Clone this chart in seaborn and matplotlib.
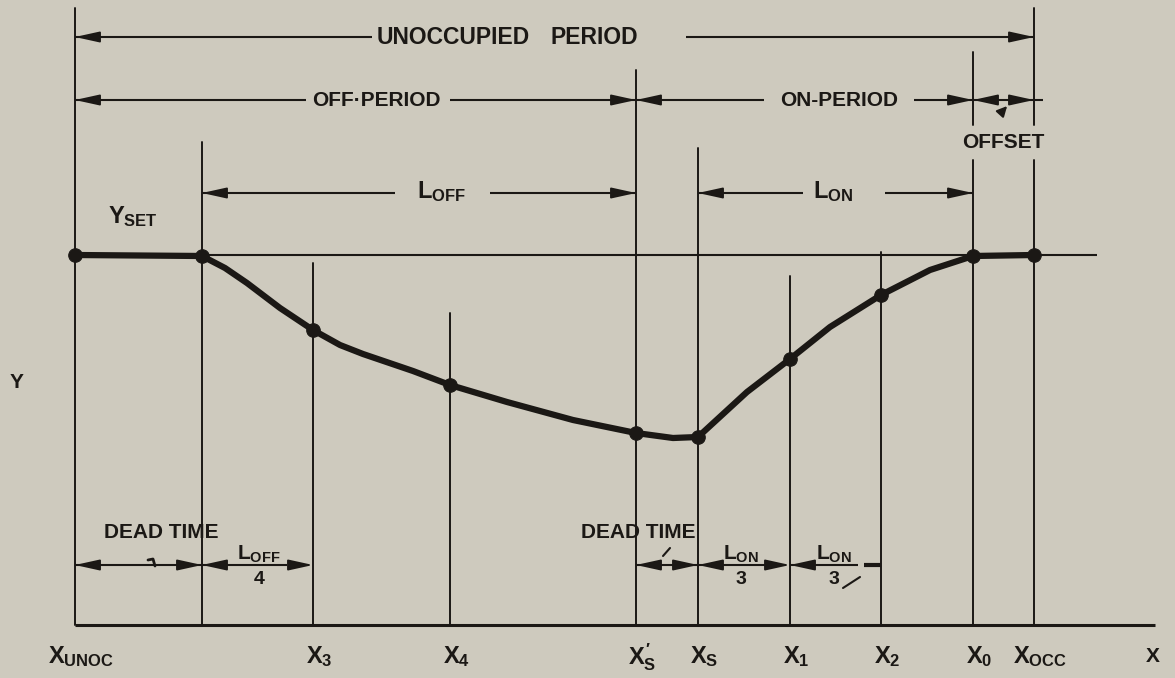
import matplotlib
matplotlib.use('Agg')
import matplotlib.pyplot as plt
import seaborn as sns
from matplotlib.patches import FancyArrowPatch

# nodes along the time axis and the curve value at each node (picture units, y grows downwards)
node_x = [75, 202, 313, 450, 636, 698, 790, 881, 973, 1034]
node_y = [255, 256, 330, 385, 433, 437, 359, 295, 256, 255]
node_top = [8, 142, 263, 313, 70, 148, 276, 252, 160, 160]   # where each vertical guide starts
node_labels = [r'$X_{UNOC}$', '', r'$X_3$', r'$X_4$', r'$X^{\prime}_{S}$', r'$X_S$',
               r'$X_1$', r'$X_2$', r'$X_0$', r'$X_{OCC}$']

# extra points read along the curve between the nodes
curve_x = [75, 202, 225, 247, 280, 313, 340, 363, 413, 450, 507, 573, 636, 673, 698, 747, 790, 830, 881, 930, 973, 1034]
curve_y = [255, 256, 268, 283, 308, 330, 345, 354, 371, 385, 402, 420, 433, 438, 437, 392, 359, 327, 295, 270, 256, 255]

y_set = 255
x_axis_y = 625

ink = '#1b1815'
bg = '#cecabe'

sns.set_theme(style='white')
plt.rcParams['font.family'] = ['Liberation Sans', 'DejaVu Sans']
plt.rcParams['font.weight'] = 'bold'
plt.rcParams['mathtext.fontset'] = 'custom'
plt.rcParams['mathtext.rm'] = 'Liberation Sans:bold'
plt.rcParams['mathtext.it'] = 'Liberation Sans:bold'
plt.rcParams['mathtext.bf'] = 'Liberation Sans:bold'

fig = plt.figure(figsize=(11.75, 6.78), dpi=100, facecolor=bg)
ax = fig.add_axes([0, 0, 1, 1])
ax.set_facecolor(bg)

FS = 15


def head(tip, y, d, length=22):
    # d = +1 arrow points right, -1 points left
    ax.add_patch(FancyArrowPatch((tip - d * length, y), (tip, y),
                                 arrowstyle='-|>,head_length=1.5,head_width=0.33',
                                 mutation_scale=10, lw=1.3, color=ink,
                                 shrinkA=0, shrinkB=0, zorder=4))


def seg(x0, x1, y, lw=1.5):
    ax.plot([x0, x1], [y, y], color=ink, lw=lw, solid_capstyle='butt')


# curve and nodes
sns.lineplot(x=curve_x, y=curve_y, ax=ax, color=ink, lw=4.5, sort=False, estimator=None)
sns.scatterplot(x=node_x, y=node_y, ax=ax, s=95, color=ink, edgecolor=ink, zorder=5)

# axes lines
seg(node_x[0], 1155, x_axis_y, lw=2.2)
seg(node_x[1], 1097, y_set, lw=1.5)

# vertical guides
for x, top in zip(node_x, node_top):
    ax.plot([x, x], [top, x_axis_y], color=ink, lw=1.4)
ax.plot([node_x[8], node_x[8]], [52, 125], color=ink, lw=1.4)
ax.plot([node_x[9], node_x[9]], [8, 125], color=ink, lw=1.4)

# UNOCCUPIED PERIOD
y = 37
seg(75, 372, y); seg(686, 1034, y)
head(75, y, -1); head(1034, y, 1)
ax.text(377, y, 'UNOCCUPIED', fontsize=16.5, fontweight='bold', color=ink, ha='left', va='center')
ax.text(551, y, 'PERIOD', fontsize=16.5, fontweight='bold', color=ink, ha='left', va='center')

# OFF / ON period and offset
y = 100
seg(75, 306, y); seg(450, 636, y)
head(75, y, -1); head(636, y, 1)
ax.text(312, y, 'OFF\u00b7PERIOD', fontsize=FS, fontweight='bold', color=ink, ha='left', va='center')
seg(636, 764, y); seg(914, 973, y)
head(636, y, -1); head(973, y, 1)
ax.text(780, y, 'ON-PERIOD', fontsize=FS, fontweight='bold', color=ink, ha='left', va='center')
seg(973, 1043, y)
head(973, y, -1, 18); head(1034, y, 1, 18)
ax.annotate('', xy=(1009, 104), xytext=(999, 115),
            arrowprops=dict(arrowstyle='-|>,head_length=0.5,head_width=0.25', color=ink, lw=1.5))
ax.text(1003, 142, 'OFFSET', fontsize=FS, fontweight='bold', color=ink, ha='center', va='center')

# L_OFF and L_ON
y = 193
seg(202, 395, y); seg(490, 636, y)
head(202, y, -1); head(636, y, 1)
ax.text(417, 198, r'$L_{OFF}$', fontsize=FS + 2, color=ink, ha='left', va='baseline')
seg(698, 803, y); seg(885, 973, y)
head(698, y, -1); head(973, y, 1)
ax.text(813, 198, r'$L_{ON}$', fontsize=FS + 2, color=ink, ha='left', va='baseline')

ax.text(108, 223, r'$Y_{SET}$', fontsize=FS + 2, color=ink, ha='left', va='baseline')
ax.text(17, 382, 'Y', fontsize=FS, fontweight='bold', color=ink, ha='center', va='center')

# bottom dimension row
y = 565
seg(75, 202, y); head(75, y, -1); head(202, y, 1)
ax.text(161, 532, 'DEAD TIME', fontsize=FS, fontweight='bold', color=ink, ha='center', va='center')
ax.plot([148, 153, 155], [560, 559, 566], color=ink, lw=2)

seg(202, 287, y); head(202, y, -1); head(313, y, 1, 18)
ax.text(259, 560, r'$L_{OFF}$', fontsize=FS, color=ink, ha='center', va='baseline')
ax.text(259, 579, '4', fontsize=FS - 1, fontweight='bold', color=ink, ha='center', va='center')

seg(636, 698, y); head(636, y, -1); head(698, y, 1)
ax.text(638, 533, 'DEAD TIME', fontsize=FS, fontweight='bold', color=ink, ha='center', va='center')
ax.plot([663, 670], [556, 548], color=ink, lw=1.5)

seg(698, 765, y); head(698, y, -1); head(790, y, 1)
ax.text(741, 560, r'$L_{ON}$', fontsize=FS, color=ink, ha='center', va='baseline')
ax.text(741, 580, '3', fontsize=FS - 1, fontweight='bold', color=ink, ha='center', va='center')

seg(790, 858, y); seg(864, 881, y, lw=3); head(790, y, -1)
ax.text(834, 560, r'$L_{ON}$', fontsize=FS, color=ink, ha='center', va='baseline')
ax.text(834, 580, '3', fontsize=FS - 1, fontweight='bold', color=ink, ha='center', va='center')
ax.plot([843, 860], [588, 577], color=ink, lw=1.5)

# tick labels on the time axis
for x, lab in zip(node_x, node_labels):
    if lab:
        ax.text(x + 6, 657, lab, fontsize=FS + 2, color=ink, ha='center', va='center')
ax.text(1153, 657, 'X', fontsize=FS, fontweight='bold', color=ink, ha='center', va='center')

ax.set_xlim(0, 1175)
ax.set_ylim(678, 0)
ax.axis('off')

fig.savefig('out.png', dpi=100, facecolor=bg)
